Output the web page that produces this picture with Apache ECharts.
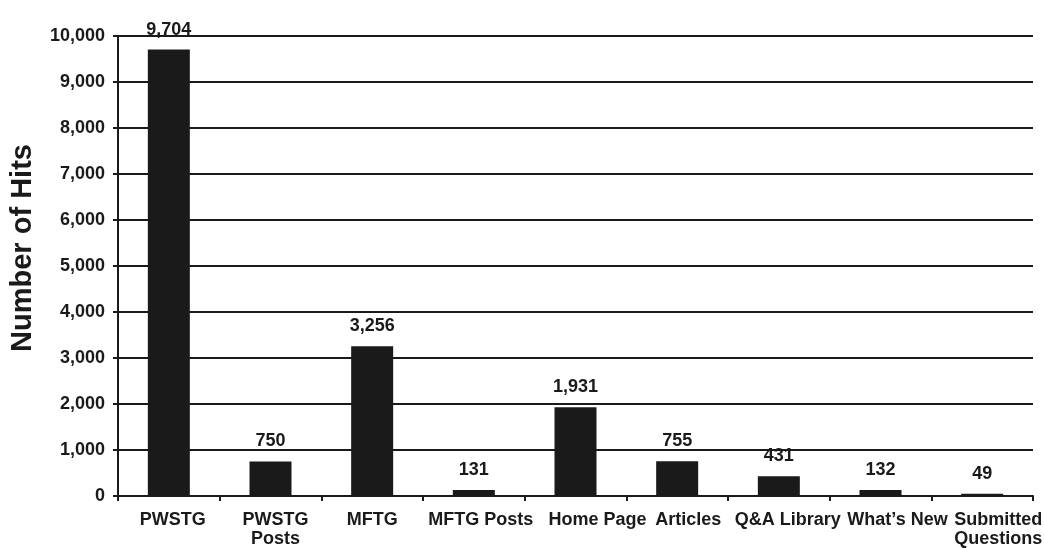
<!DOCTYPE html>
<html>
<head>
<meta charset="utf-8">
<script src="https://cdn.jsdelivr.net/npm/echarts@6/dist/echarts.min.js"></script>
<style>
  html, body { margin: 0; padding: 0; background: #fff; }
  #chart { width: 1044px; height: 548px; }
</style>
</head>
<body>
<div id="chart"></div>
<script>
// Page hits per section of the site
const categories = ['PWSTG', 'PWSTG\nPosts', 'MFTG', 'MFTG Posts', 'Home Page', 'Articles', 'Q&A Library', 'What\u2019s New', 'Submitted\nQuestions'];
const hits = [9704, 750, 3256, 131, 1931, 755, 431, 132, 49];
const yTicks = { min: 0, max: 10000, interval: 1000 };

// Horizontal nudge (px) of each category label, right of its bar centre
const labelNudge = [4, 5, 0, 7, 22, 11, 9, 17, 16];

const ink = '#1a1a1a';
const fontFamily = 'Liberation Sans, Arial, Helvetica, sans-serif';
const fmt = v => v.toLocaleString('en-US');

const catText = { color: ink, fontFamily, fontWeight: 'bold', fontSize: 18, lineHeight: 19 };
const rich = {};
labelNudge.forEach((dx, i) => {
  rich['c' + i] = Object.assign({ padding: [0, 0, 0, 2 * dx] }, catText);
});

const chart = echarts.init(document.getElementById('chart'), null, { renderer: 'canvas' });
chart.setOption({
  animation: false,
  backgroundColor: '#fff',
  grid: { left: 118, right: 11, top: 36, bottom: 52, containLabel: false, outerBoundsMode: 'none' },
  graphic: [{
    type: 'text',
    x: 22.5, y: 248,
    rotation: Math.PI / 2,
    style: {
      text: 'Number of Hits',
      fill: ink, fontFamily, fontWeight: 'bold', fontSize: 29,
      align: 'center', verticalAlign: 'middle'
    }
  }],
  xAxis: {
    type: 'category',
    data: categories,
    axisLine: { lineStyle: { color: ink, width: 2 } },
    axisTick: { show: true, length: 5, lineStyle: { color: ink, width: 2 } },
    axisLabel: Object.assign({
      margin: 15, interval: 0,
      formatter: (value, index) => value.split('\n').map(l => '{c' + index + '|' + l + '}').join('\n'),
      rich
    }, catText)
  },
  yAxis: {
    type: 'value',
    min: yTicks.min, max: yTicks.max, interval: yTicks.interval,
    axisLine: { show: true, lineStyle: { color: ink, width: 2 } },
    axisTick: { show: true, length: 5, lineStyle: { color: ink, width: 2 } },
    axisLabel: { color: ink, fontFamily, fontWeight: 'bold', fontSize: 18, margin: 13, formatter: fmt },
    splitLine: { show: true, lineStyle: { color: ink, width: 2 } }
  },
  series: [{
    type: 'bar',
    data: hits,
    barWidth: 42,
    itemStyle: { color: ink },
    label: {
      show: true, position: 'top', distance: 11,
      color: ink, fontFamily, fontWeight: 'bold', fontSize: 18,
      formatter: p => fmt(p.value)
    }
  }]
});
</script>
</body>
</html>
